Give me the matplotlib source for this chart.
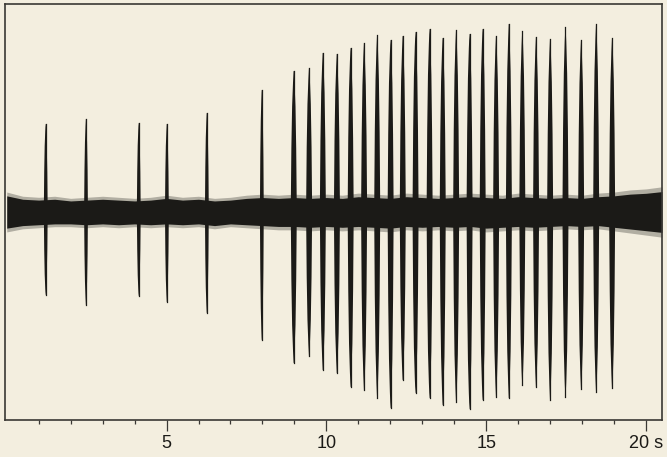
import numpy as np
import matplotlib
matplotlib.use("Agg")
import matplotlib.pyplot as plt

# ---- data (amplitude in arbitrary units) ----
spike_times = [1.22, 2.48, 4.13, 5.01, 6.26, 7.98,
               8.98, 9.46, 9.89, 10.33, 10.76, 11.18, 11.59, 12.01, 12.39, 12.79,
               13.23, 13.64, 14.06, 14.48, 14.89, 15.31, 15.71, 16.13, 16.56, 17.00,
               17.48, 17.97, 18.44, 18.94]
spike_up = [88, 93, 89, 88, 99, 122,
            141, 144, 159, 158, 164, 169, 177, 172, 176, 180,
            183, 174, 182, 178, 183, 176, 188, 181, 175, 173,
            185, 172, 188, 174]
spike_down = [83, 93, 84, 90, 101, 128,
              151, 144, 158, 161, 175, 178, 186, 196, 168, 181,
              186, 193, 190, 197, 188, 185, 186, 173, 175, 188,
              185, 177, 180, 176]

noise_t = [i * 0.5 for i in range(42)]
noise_up = [19, 15, 14, 15, 13, 14, 15, 14, 13, 14, 16, 14, 15, 13, 14, 16, 17, 16, 17, 16, 17,
            16, 18, 17, 16, 18, 17, 16, 17, 18, 17, 16, 18, 17, 16, 17, 16, 18, 19, 21, 22, 24]
noise_down = [19, 16, 15, 14, 14, 15, 14, 15, 14, 15, 14, 15, 14, 16, 14, 15, 16, 17, 17, 18, 17,
              18, 17, 18, 19, 17, 18, 17, 18, 17, 19, 18, 17, 18, 17, 16, 17, 16, 18, 20, 22, 24]

tick_pos = [5, 10, 15, 20]
tick_labels = ["5", "10", "15", "20 s"]

# ---- style ----
BG = "#f3eedf"
INK = "#1b1a17"

fig = plt.figure(figsize=(6.67, 4.57), dpi=100, facecolor=BG)
ax = fig.add_axes([4.5 / 667, 1 - 420 / 457, (661.7 - 4.5) / 667, (420 - 4) / 457])
ax.set_facecolor(BG)
ax.set_xlim(-0.07, 20.49)
ax.set_ylim(-208, 208)

# background noise band: faint fuzzy envelope + solid core
nt = np.array(noise_t)
up = np.array(noise_up, dtype=float)
dn = np.array(noise_down, dtype=float)
ax.fill_between(nt, -dn * 1.05, up * 1.05, color=INK, alpha=0.3, lw=0, zorder=2)
ax.fill_between(nt, -dn * 0.85, up * 0.85, color=INK, lw=0, zorder=2)

# spikes as tapered spindles
for i, (t, a_up, a_dn) in enumerate(zip(spike_times, spike_up, spike_down)):
    hw = 0.06 if i < 6 else 0.095
    for sign, amp in ((1, a_up), (-1, a_dn)):
        fr = [0, 0.45, 0.75, 0.92, 1.0]
        wf = [1.0, 0.8, 0.55, 0.25, 0.05]
        xs = [t - hw * w for w in wf] + [t + hw * w for w in wf[::-1]]
        ys = [sign * amp * f for f in fr] + [sign * amp * f for f in fr[::-1]]
        ax.fill(xs, ys, color=INK, lw=0, zorder=3)
        ax.plot([t, t], [0, sign * amp], color=INK, lw=0.9, zorder=3)

# axes frame and ticks
for s in ax.spines.values():
    s.set_color("#3a3834")
    s.set_linewidth(1.2)
ax.set_yticks([])
ax.set_xticks(tick_pos)
ax.set_xticklabels(tick_labels)
ax.set_xticks(range(1, 21), minor=True)
ax.tick_params(axis="x", which="major", direction="out", length=8, width=0.9,
               color="#3a3834", labelsize=13, pad=3, labelcolor=INK)
ax.tick_params(axis="x", which="minor", direction="out", length=3, width=0.9, color="#3a3834")
for lab in ax.get_xticklabels():
    lab.set_family(["Liberation Sans", "DejaVu Sans"])

fig.savefig("out.png", dpi=100, facecolor=BG)
